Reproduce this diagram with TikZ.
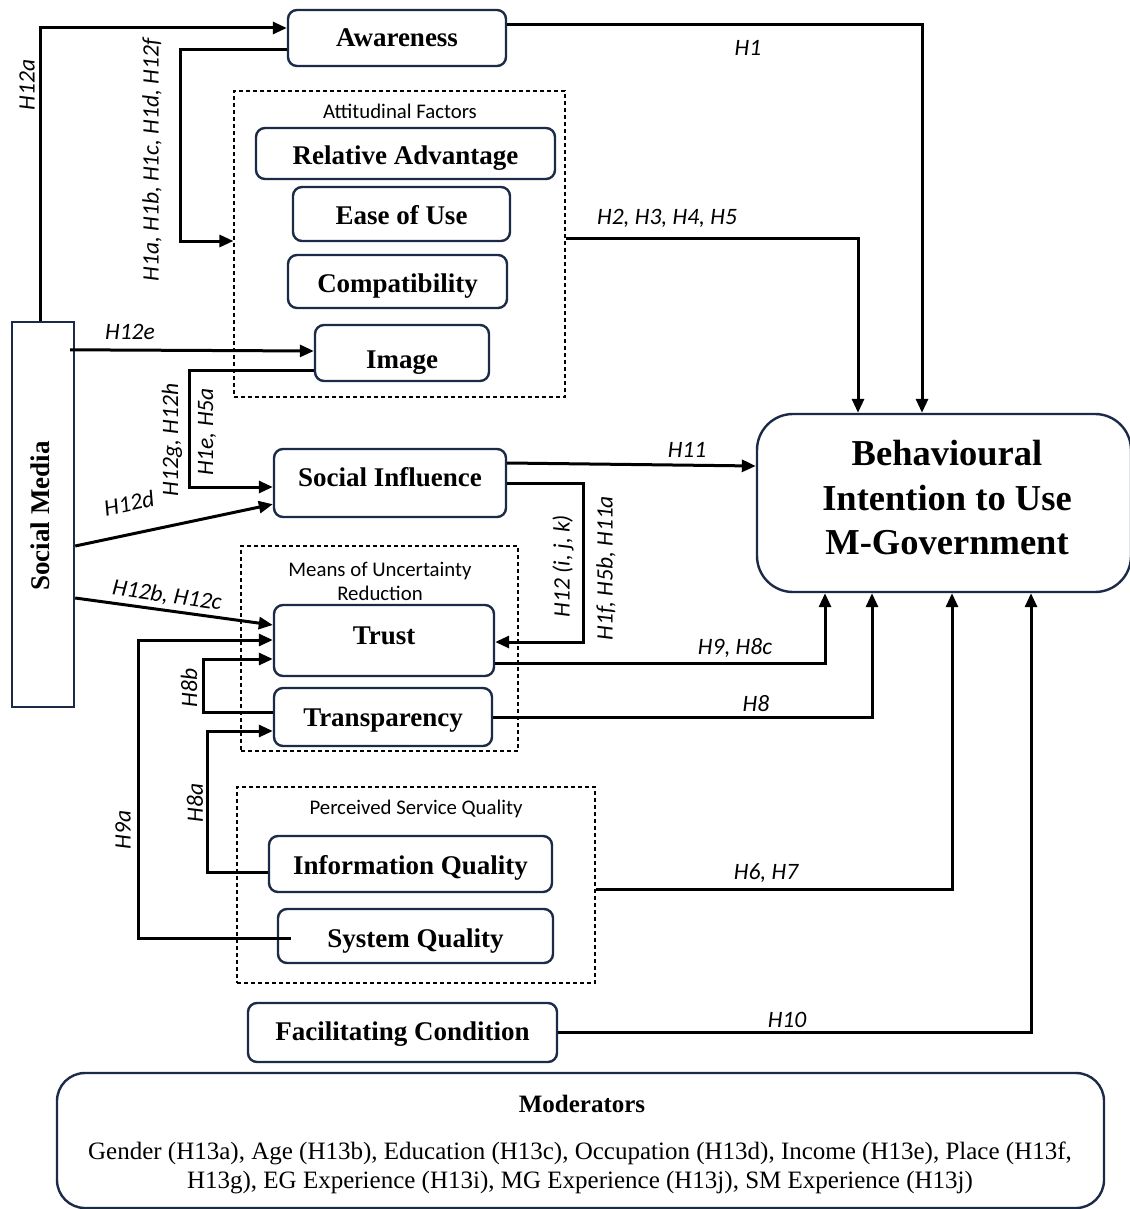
\documentclass[tikz,border=0pt]{standalone}
\usepackage{fontspec}
\setmainfont{Liberation Serif}
\newfontfamily\labfont{Carlito}
\usetikzlibrary{arrows.meta,calc}
\definecolor{navy}{HTML}{1B2A47}
\tikzset{
  box/.style={draw=navy, line width=2.4pt, rounded corners=9pt, align=center,
    font=\fontsize{27}{31}\selectfont\bfseries, inner sep=0pt,
    text height=20pt, text depth=2pt},
  % moves the label of a box down by #1 (in pt) inside its frame
  tshift/.style={text height=20pt+2*#1 pt},
  group/.style={draw, line width=1.2pt, dash pattern=on 4pt off 3pt, inner sep=0pt},
  conn/.style={line width=3pt, -{Triangle[length=14pt,width=12pt]}},
  lab/.style={font=\labfont\itshape\fontsize{23.5}{26}\selectfont, inner sep=0pt},
  gtitle/.style={font=\labfont\fontsize{20.8}{26}\selectfont, inner sep=0pt, align=center}
}
\begin{document}
\begin{tikzpicture}[x=1pt,y=-1pt]
\useasboundingbox (0,0) rectangle (1129,1209);

% dashed groups
\node[group, minimum width=331pt, minimum height=306pt] (af) at (399.5,244) {};
\node[group, minimum width=277pt, minimum height=205pt] (mu) at (379.5,648.5) {};
\node[group, minimum width=358pt, minimum height=196pt] (ps) at (416,885) {};
\node[gtitle] (aft) at (400,111) {Attitudinal Factors};
\node[gtitle] (mut) at (380,581) {Means of Uncertainty\\[-2pt]Reduction};
\node[gtitle] (pst) at (416,809) {Perceived Service Quality};

% constructs
\node[box, minimum width=218pt, minimum height=56pt] (aw) at (397,38) {Awareness};
\node[box, tshift=2.5, minimum width=299pt, minimum height=51pt] (ra) at (405.5,153.5) {Relative Advantage};
\node[box, tshift=1, minimum width=217pt, minimum height=54pt] (eu) at (401.5,214) {Ease of Use};
\node[box, tshift=1.5, minimum width=219pt, minimum height=53pt] (co) at (397.5,281.5) {Compatibility};
\node[box, tshift=6, minimum width=174pt, minimum height=56pt] (im) at (402,353) {Image};
\node[box, tshift=-6, minimum width=232pt, minimum height=68pt] (si) at (390,483) {Social Influence};
\node[box, tshift=-5.5, minimum width=220pt, minimum height=71pt] (tr) at (384,640.5) {Trust};
\node[box, minimum width=218pt, minimum height=58pt] (tp) at (383,717) {Transparency};
\node[box, tshift=1, minimum width=283pt, minimum height=56pt] (iq) at (410.5,864) {Information Quality};
\node[box, tshift=2, minimum width=275pt, minimum height=54pt] (sq) at (415.5,936) {System Quality};
\node[box, tshift=-1.5, minimum width=309pt, minimum height=59pt] (fc) at (402.5,1032.5) {Facilitating Condition};
\node[box, rounded corners=0pt, minimum width=62pt, minimum height=385pt] (sm) at (43,514.5) {};
\node[font=\fontsize{27}{31}\selectfont\bfseries, rotate=90] (smt) at (40,516) {Social Media};
\node[box, rounded corners=36pt, minimum width=374pt, minimum height=178pt] (bi) at (944,503) {};
\node[font=\fontsize{36.5}{44.5}\selectfont\bfseries, align=center] (bit) at (947,498)
  {Behavioural\\Intention to Use\\M-Government};
\node[box, rounded corners=28pt, minimum width=1047pt, minimum height=135pt] (mod) at (580.5,1140.5) {};
\node[font=\fontsize{25}{28}\selectfont\bfseries] (modt) at (582,1104) {Moderators};
\node[font=\fontsize{25}{29}\selectfont, align=center] (modl) at (580,1168)
  {Gender (H13a), Age (H13b), Education (H13c), Occupation (H13d), Income (H13e), Place (H13f,\\
   H13g), EG Experience (H13i), MG Experience (H13j), SM Experience (H13j)};

% connectors
\draw[conn] ($(sm.north)+(-3,0)$) |- ($(aw.west)+(0,-10)$);
\draw[conn] ($(aw.west)+(0,12)$) -- ++(-106,0) |- ($(af.west)+(0,-3)$);
\draw[conn] ($(aw.east)+(0,-13)$) -| ($(bi.north)+(-22,0)$);
\draw[conn] ($(af.east)+(0,-6)$) -| ($(bi.north)+(-86,0)$);
\draw[conn] ($(sm.north east)+(-5,29)$) -- ($(im.west)+(0,-2)$);
\draw[conn] ($(im.west)+(0,17)$) -- ++(-124,0) |- ($(si.west)+(0,4)$);
\draw[conn] ($(sm.east)+(0,31.5)$) -- ($(si.south west)+(0,-14)$);
\draw[conn] ($(si.east)+(0,-20)$) -- ($(bi.west)+(0,-37)$);
\draw[conn] (si.east) -- ++(76,0) |- ($(tr.east)+(0,1.5)$);
\draw[conn] ($(sm.east)+(0,83.5)$) -- ($(tr.west)+(0,-15.5)$);
\draw[conn] ($(tr.east)+(0,22.5)$) -| ($(bi.south)+(-119,0)$);
\draw[conn] (tp.east) -| ($(bi.south)+(-72,0)$);
\draw[conn] ($(tp.west)+(0,-5)$) -- ++(-69,0) |- ($(tr.west)+(0,18.5)$);
\draw[conn] ($(iq.west)+(0,8)$) -- ++(-60,0) |- ($(tp.west)+(0,14)$);
\draw[conn] ($(sq.west)+(14,2)$) -- ++(-152,0) |- ($(tr.west)+(0,-0.5)$);
\draw[conn] ($(ps.east)+(0,4)$) -| ($(bi.south)+(8,0)$);
\draw[conn] (fc.east) -| ($(bi.south)+(87,0)$);

% hypothesis labels
\node[lab, rotate=90] (l12a) at (27,85) {H12a};
\node[lab, rotate=90] (l1a) at (152,160) {H1a, H1b, H1c, H1d, H12f};
\node[lab] (l1) at (748,48) {H1};
\node[lab] (l2) at (667,218) {H2, H3, H4, H5};
\node[lab] (l12e) at (130,332) {H12e};
\node[lab, rotate=90] (l12g) at (172,440) {H12g, H12h};
\node[lab, rotate=90] (l1e) at (207,432) {H1e, H5a};
\node[lab, rotate=12] (l12d) at (129,503) {H12d};
\node[lab] (l11) at (687,450) {H11};
\node[lab, rotate=90] (l12i) at (563,566) {H12 (i, j, k)};
\node[lab, rotate=90] (l1f) at (606,568) {H1f, H5b, H11a};
\node[lab, rotate=-8] (l12b) at (167,596) {H12b, H12c};
\node[lab] (l9) at (735,648) {H9, H8c};
\node[lab] (l8) at (756,704) {H8};
\node[lab, rotate=90] (l8b) at (189,688) {H8b};
\node[lab, rotate=90] (l8a) at (195,803) {H8a};
\node[lab, rotate=90] (l9a) at (123,830) {H9a};
\node[lab] (l6) at (766,873) {H6, H7};
\node[lab] (l10) at (787,1020) {H10};
\end{tikzpicture}
\end{document}
